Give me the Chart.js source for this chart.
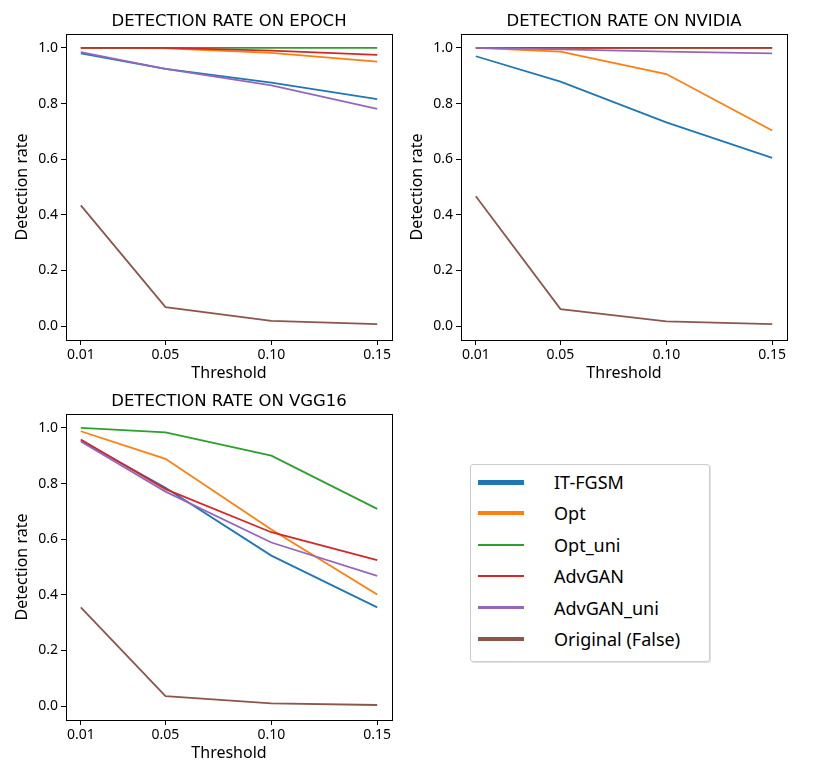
<!DOCTYPE html>
<html>
<head>
<meta charset="utf-8">
<script src="https://cdn.jsdelivr.net/npm/chart.js@4/dist/chart.umd.min.js"></script>
<style>
  body { margin: 0; background: #fff; width: 819px; height: 777px; position: relative; overflow: hidden; }
  .panel { position: absolute; width: 410px; height: 390px; }
  #legend { position: absolute; left: 470px; top: 464px; width: 238px; height: 196px;
    border: 1px solid #ccc; border-radius: 3px; box-shadow: 1px 1px 0 #e2e2e2;
    font-family: "Noto Sans", sans-serif; font-size: 18px; color: #000; }
  .row { position: absolute; left: 0; height: 30px; width: 100%; }
  .row .swatch { position: absolute; left: 7px; width: 46px; }
  .row .name { position: absolute; left: 83px; line-height: 30px; top: 0; }
</style>
</head>
<body>
<div class="panel" style="left:0;top:0"><canvas id="epoch"></canvas></div>
<div class="panel" style="left:395px;top:0"><canvas id="nvidia"></canvas></div>
<div class="panel" style="left:0;top:380px"><canvas id="vgg16"></canvas></div>
<div id="legend"></div>
<script>
const thresholds = [0.01, 0.05, 0.10, 0.15]
const xTickLabels = ["0.01", "0.05", "0.10", "0.15"]
const yTicks = [0.0, 0.2, 0.4, 0.6, 0.8, 1.0]
const seriesNames = ["IT-FGSM", "Opt", "Opt_uni", "AdvGAN", "AdvGAN_uni", "Original (False)"]

const epochItFgsm = [0.980, 0.925, 0.875, 0.816]
const epochOpt = [1.000, 0.998, 0.982, 0.951]
const epochOptUni = [1.000, 1.000, 1.000, 1.000]
const epochAdvGan = [1.000, 1.000, 0.990, 0.975]
const epochAdvGanUni = [0.985, 0.925, 0.865, 0.781]
const epochOriginal = [0.434, 0.068, 0.019, 0.007]

const nvidiaItFgsm = [0.970, 0.879, 0.732, 0.605]
const nvidiaOpt = [1.000, 0.987, 0.906, 0.703]
const nvidiaOptUni = [1.000, 1.000, 1.000, 1.000]
const nvidiaAdvGan = [1.000, 1.000, 1.000, 1.000]
const nvidiaAdvGanUni = [1.000, 0.995, 0.987, 0.980]
const nvidiaOriginal = [0.467, 0.061, 0.017, 0.007]

const vggItFgsm = [0.955, 0.785, 0.541, 0.355]
const vggOpt = [0.988, 0.889, 0.635, 0.401]
const vggOptUni = [1.000, 0.984, 0.900, 0.709]
const vggAdvGan = [0.958, 0.780, 0.625, 0.525]
const vggAdvGanUni = [0.951, 0.771, 0.588, 0.468]
const vggOriginal = [0.355, 0.036, 0.010, 0.004]

const COLORS = ["#1f77b4", "#ff7f0e", "#2ca02c", "#d62728", "#9467bd", "#8c564b"]
const LEGEND_WIDTHS = [5, 4, 2.5, 2.5, 3.5, 4]

// axes frame + title centred over the plot area, like matplotlib
const frame = {
  id: "frame",
  afterDraw(chart, args, opts) {
    const { ctx, chartArea: a } = chart
    ctx.save()
    ctx.strokeStyle = "#000"
    ctx.lineWidth = 1
    ctx.strokeRect(Math.round(a.left) + 0.5, Math.round(a.top) + 0.5,
      Math.round(a.right - a.left), Math.round(a.bottom - a.top))
    ctx.fillStyle = "#000"
    ctx.font = "16.5px 'DejaVu Sans'"
    ctx.textAlign = "center"
    ctx.textBaseline = "middle"
    ctx.fillText(opts.text, (a.left + a.right) / 2, a.top - 12)
    ctx.restore()
  }
}

function makeChart(id, title, series) {
  new Chart(document.getElementById(id), {
    type: "line",
    data: {
      datasets: series.map((vals, i) => ({
        label: seriesNames[i],
        data: thresholds.map((t, j) => ({ x: t, y: vals[j] })),
        borderColor: COLORS[i],
        borderWidth: 1.8,
        pointRadius: 0,
        tension: 0,
        fill: false,
        order: series.length - i
      }))
    },
    options: {
      responsive: true,
      maintainAspectRatio: false,
      animation: false,
      layout: { padding: { right: 18, left: 0, top: 34, bottom: 0 } },
      plugins: {
        legend: { display: false },
        tooltip: { enabled: false },
        title: { display: false },
        frame: { text: title }
      },
      scales: {
        x: {
          type: "linear",
          min: 0.003,
          max: 0.157,
          afterBuildTicks: s => { s.ticks = thresholds.map(v => ({ value: v })) },
          afterFit: s => { s.height = 50 },
          ticks: {
            color: "#000",
            font: { family: "Noto Sans", size: 14 },
            padding: 2,
            maxRotation: 0,
            callback: (v, i) => xTickLabels[i]
          },
          grid: { drawOnChartArea: false, tickLength: 5, tickColor: "#000" },
          border: { display: false },
          title: {
            display: true,
            text: "Threshold",
            color: "#000",
            font: { family: "Noto Sans", size: 16 },
            padding: { top: 0, bottom: 7 }
          }
        },
        y: {
          min: -0.05,
          max: 1.05,
          afterBuildTicks: s => { s.ticks = yTicks.map(v => ({ value: v })) },
          afterFit: s => { s.width = 66 },
          ticks: {
            color: "#000",
            font: { family: "Noto Sans", size: 14 },
            padding: 3,
            callback: v => v.toFixed(1)
          },
          grid: { drawOnChartArea: false, tickLength: 5, tickColor: "#000" },
          border: { display: false },
          title: {
            display: true,
            text: "Detection rate",
            color: "#000",
            font: { family: "Noto Sans", size: 16 },
            padding: { top: 13, bottom: 0 }
          }
        }
      }
    },
    plugins: [frame]
  })
}

makeChart("epoch", "DETECTION RATE ON EPOCH",
  [epochItFgsm, epochOpt, epochOptUni, epochAdvGan, epochAdvGanUni, epochOriginal])
makeChart("nvidia", "DETECTION RATE ON NVIDIA",
  [nvidiaItFgsm, nvidiaOpt, nvidiaOptUni, nvidiaAdvGan, nvidiaAdvGanUni, nvidiaOriginal])
makeChart("vgg16", "DETECTION RATE ON VGG16",
  [vggItFgsm, vggOpt, vggOptUni, vggAdvGan, vggAdvGanUni, vggOriginal])

// shared legend box
const legend = document.getElementById("legend")
seriesNames.forEach((name, i) => {
  const row = document.createElement("div")
  row.className = "row"
  row.style.top = (2 + i * 31.4) + "px"
  const sw = document.createElement("div")
  sw.className = "swatch"
  sw.style.height = LEGEND_WIDTHS[i] + "px"
  sw.style.top = (15 - LEGEND_WIDTHS[i] / 2) + "px"
  sw.style.background = COLORS[i]
  const label = document.createElement("span")
  label.className = "name"
  label.textContent = name
  row.appendChild(sw)
  row.appendChild(label)
  legend.appendChild(row)
})
</script>
</body>
</html>
